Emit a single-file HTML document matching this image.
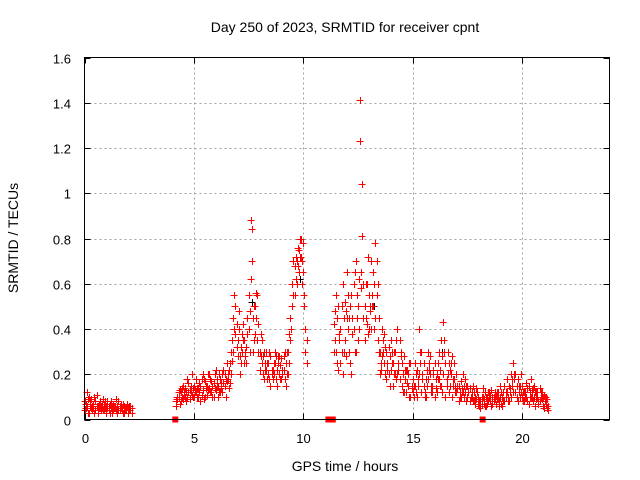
<!DOCTYPE html>
<html><head><meta charset="utf-8"><style>
body{margin:0;background:#fff}
svg{display:block;font-family:"Liberation Sans",sans-serif;font-size:13px}
</style></head><body>
<svg id="chart" width="640" height="480" viewBox="0 0 640 480">
<rect width="640" height="480" fill="#fff"/>
<text x="345" y="32" text-anchor="middle" font-size="14">Day 250 of 2023, SRMTID for receiver cpnt</text>
<text transform="translate(18,238) rotate(-90)" text-anchor="middle" font-size="14">SRMTID / TECUs</text>
<text x="345" y="471" text-anchor="middle" font-size="14">GPS time / hours</text>
<g id="grid"></g><g id="ticks"></g><g id="marks"></g>
<rect x="84.5" y="57.5" width="525" height="362" fill="none" stroke="#000"/>
</svg>
<script>
const xTicks=[0,5,10,15,20];
const yTicks=[0,0.2,0.4,0.6,0.8,1,1.2,1.4,1.6];
const yTickLabels=["0","0.2","0.4","0.6","0.8","1","1.2","1.4","1.6"];
const times=[0,0.1,0.2,0.3,0.4,0.5,0.6,0.7,0.8,0.9,1.0,1.1,1.2,1.3,1.4,1.5,1.6,1.7,1.8,1.9,2.0,2.1,
4.2,4.3,4.4,4.5,4.6,4.7,4.8,4.9,5.0,5.1,5.2,5.3,5.4,5.5,5.6,5.7,5.8,5.9,6.0,6.1,6.2,6.3,6.4,6.5,6.6,6.7,6.8,6.9,7.0,7.1,7.2,7.3,7.4,7.5,7.6,7.7,7.8,7.9,8.0,8.1,8.2,8.3,8.4,8.5,8.6,8.7,8.8,8.9,9.0,9.1,9.2,9.3,9.4,9.5,9.6,9.7,9.8,9.9,10.0,10.1,
11.4,11.5,11.6,11.7,11.8,11.9,12.0,12.1,12.2,12.3,12.4,12.5,12.6,12.7,12.8,12.9,13.0,13.1,13.2,13.3,13.4,13.5,13.6,13.7,13.8,13.9,14.0,14.1,14.2,14.3,14.4,14.5,14.6,14.7,14.8,14.9,15.0,15.1,15.2,15.3,15.4,15.5,15.6,15.7,15.8,15.9,16.0,16.1,16.2,16.3,16.4,16.5,16.6,16.7,16.8,16.9,17.0,17.1,17.2,17.3,17.4,17.5,17.6,17.7,17.8,17.9,18.0,18.1,18.2,18.3,18.4,18.5,18.6,18.7,18.8,18.9,19.0,19.1,19.2,19.3,19.4,19.5,19.6,19.7,19.8,19.9,20.0,20.1,20.2,20.3,20.4,20.5,20.6,20.7,20.8,20.9,21.0,21.1,21.2];
const valsA=[.08,.06,.1,.05,.07,.04,.06,.08,.05,.07,.06,.04,.05,.07,.05,.06,.04,.05,.06,.04,.05,.04,
.08,.1,.12,.09,.14,.1,.13,.11,.15,.12,.1,.15,.13,.17,.11,.14,.12,.16,.13,.15,.18,.12,.2,.17,.22,.3,.45,.5,.35,.28,.3,.35,.25,.55,.88,.45,.5,.35,.3,.25,.3,.22,.2,.28,.18,.25,.22,.2,.27,.22,.25,.3,.45,.6,.55,.7,.75,.8,.65,.4,
.42,.3,.5,.25,.6,.35,.45,.3,.55,.4,.7,.35,1.41,.81,.5,.6,.4,.7,.5,.78,.35,.3,.4,.25,.3,.2,.35,.25,.3,.2,.35,.15,.28,.12,.2,.1,.18,.15,.22,.4,.12,.25,.18,.3,.2,.15,.25,.2,.3,.15,.43,.25,.2,.15,.28,.18,.12,.15,.1,.2,.12,.15,.08,.1,.12,.09,.1,.08,.1,.12,.07,.1,.13,.08,.11,.12,.15,.1,.15,.12,.08,.2,.25,.12,.18,.1,.15,.12,.1,.15,.18,.08,.12,.1,.14,.09,.11,.07,.06];
const valsB=[.04,.12,.03,.09,.05,.08,.03,.05,.07,.04,.03,.06,.08,.04,.06,.03,.06,.04,.03,.05,.03,.06,
.06,.12,.08,.15,.1,.18,.09,.2,.1,.18,.14,.08,.2,.1,.15,.2,.17,.1,.22,.1,.12,.2,.15,.25,.14,.2,.3,.38,.28,.2,.38,.25,.32,.4,.62,.3,.38,.55,.22,.35,.18,.3,.25,.15,.22,.3,.15,.28,.18,.28,.15,.2,.35,.5,.68,.6,.65,.72,.78,.3,
.3,.55,.22,.4,.2,.52,.65,.45,.2,.6,.3,.5,1.23,1.04,.35,.42,.55,.4,.65,.45,.6,.2,.28,.38,.18,.32,.22,.15,.2,.4,.18,.25,.12,.22,.15,.25,.12,.25,.1,.2,.3,.15,.1,.18,.28,.12,.1,.12,.18,.35,.2,.1,.3,.22,.1,.25,.2,.08,.17,.12,.18,.1,.14,.12,.08,.14,.07,.05,.14,.06,.1,.12,.06,.1,.07,.09,.1,.06,.08,.18,.15,.1,.12,.2,.08,.15,.1,.08,.16,.07,.1,.14,.06,.12,.08,.12,.05,.1,.04];
const valsC=[.05,.09,.06,.04,.1,.06,.05,.04,.09,.05,.08,.07,.03,.06,.04,.08,.05,.07,.04,.06,.04,.05,
.1,.07,.14,.11,.12,.16,.12,.14,.12,.14,.16,.11,.18,.14,.13,.18,.1,.2,.15,.12,.16,.22,.18,.2,.25,.35,.4,.42,.48,.32,.35,.3,.45,.3,.84,.5,.56,.42,.38,.2,.25,.18,.3,.22,.2,.28,.25,.18,.22,.3,.2,.38,.4,.7,.72,.76,.8,.7,.5,.35,
.35,.45,.38,.5,.3,.48,.55,.5,.38,.65,.45,.62,.58,.6,.45,.72,.5,.55,.6,.7,.45,.25,.3,.32,.22,.28,.25,.2,.35,.25,.28,.2,.22,.16,.25,.15,.1,.2,.15,.3,.18,.12,.22,.25,.15,.22,.18,.25,.15,.28,.35,.15,.25,.2,.18,.15,.14,.12,.14,.1,.15,.12,.1,.15,.07,.12,.08,.1,.07,.1,.12,.08,.1,.12,.09,.06,.12,.12,.1,.08,.12,.15,.18,.15,.12,.2,.12,.1,.14,.12,.1,.15,.09,.08,.12,.1,.08,.09,.05];
const valsD=[.07,.03,.08,.06,.03,.11,.07,.06,.04,.08,.05,.03,.06,.05,.09,.04,.07,.03,.05,.07,.06,.03,
.09,.13,.1,.12,.08,.12,.15,.1,.13,.1,.12,.18,.09,.15,.2,.12,.15,.14,.18,.2,.14,.16,.1,.18,.16,.26,.55,.32,.4,.25,.42,.28,.38,.48,.7,.35,.45,.3,.28,.28,.22,.25,.18,.2,.25,.18,.28,.24,.2,.18,.3,.25,.4,.55,.62,.68,.72,.6,.55,.25,
.48,.25,.35,.3,.45,.28,.4,.25,.45,.3,.55,.4,.65,.45,.6,.38,.48,.5,.4,.55,.3,.22,.35,.2,.25,.15,.3,.3,.18,.22,.3,.12,.18,.22,.1,.14,.15,.12,.18,.25,.2,.1,.15,.22,.12,.2,.14,.18,.22,.12,.3,.18,.12,.25,.15,.12,.15,.1,.12,.15,.08,.12,.1,.08,.1,.12,.06,.07,.09,.06,.08,.11,.07,.09,.12,.08,.07,.08,.12,.1,.14,.18,.2,.1,.15,.12,.08,.12,.08,.1,.13,.1,.12,.07,.1,.06,.1,.05,.07];
const blackTimes=[7.65,9.85,12.45,13.25,16.35,19.65];
const blackVals=[.52,.62,.55,.5,.3,.2];
const squareTimes=[4.15,11.15,11.35,18.2];
const squareVals=[0,0,0,0];
const X0=84.5,X1=609.5,Y0=419.5,Y1=57.5;
const xs=t=>X0+(t/24)*(X1-X0);
const ys=v=>Y0-(v/1.6)*(Y0-Y1);
const NS="http://www.w3.org/2000/svg";
function mk(tag,attrs,parent){const e=document.createElementNS(NS,tag);for(const k in attrs)e.setAttribute(k,attrs[k]);parent.appendChild(e);return e;}
const grid=document.getElementById('grid'),ticks=document.getElementById('ticks'),marks=document.getElementById('marks');
xTicks.forEach(t=>{const x=Math.round(xs(t))+0.5;
 if(t>0){const g=mk('line',{x1:x,x2:x,y1:Y1,y2:Y0,stroke:'#a0a0a0','stroke-dasharray':'2,3'},grid);
 
 }
 mk('line',{x1:x,x2:x,y1:Y0,y2:Y0-6,stroke:'#000'},ticks);
 mk('line',{x1:x,x2:x,y1:Y1,y2:Y1+6,stroke:'#000'},ticks);
 const l=mk('text',{x:x,y:443,'text-anchor':'middle'},ticks);l.textContent=t;
 
 });
yTicks.forEach((v,i)=>{const y=Math.round(ys(v))+0.5;
 if(v>0&&v<1.6){const g=mk('line',{x1:X0,x2:X1,y1:y,y2:y,stroke:'#a0a0a0','stroke-dasharray':'2,3'},grid);
 
 }
 mk('line',{x1:X0,x2:X0+6,y1:y,y2:y,stroke:'#000'},ticks);
 mk('line',{x1:X1,x2:X1-6,y1:y,y2:y,stroke:'#000'},ticks);
 const l=mk('text',{x:71,y:y+5,'text-anchor':'end'},ticks);l.textContent=yTickLabels[i];
 
 });
function plus(t,v,c){const x=Math.round(xs(t)),y=Math.round(ys(v));
 const p=mk('path',{d:`M${x-3.5} ${y+0.5}h7M${x+0.5} ${y-3}v7`,stroke:c,'stroke-width':1,fill:'none'},marks);
 
 }
blackTimes.forEach((t,i)=>plus(t,blackVals[i],'#000'));
times.forEach((t,i)=>{plus(t,valsA[i],'#f00');plus(t,valsB[i],'#f00');
 if(t<21.2){plus(t+0.05,valsC[i],'#f00');plus(t+0.05,valsD[i],'#f00');}});
squareTimes.forEach((t,i)=>{const s=mk('rect',{x:xs(t)-3,y:ys(squareVals[i])-3,width:6,height:6,fill:'#f00'},marks);
 
 });
</script>
</body></html>
